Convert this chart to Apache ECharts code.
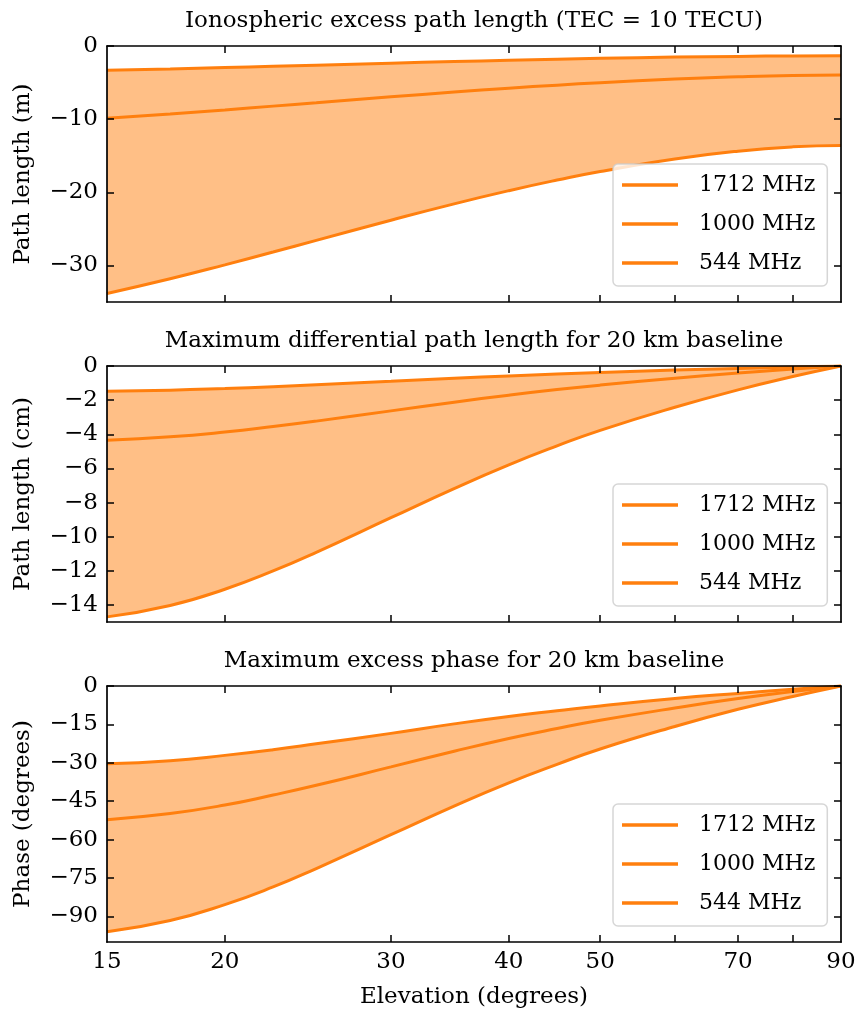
<!DOCTYPE html>
<html>
<head>
<meta charset="utf-8">
<script src="https://cdn.jsdelivr.net/npm/echarts@6/dist/echarts.min.js"></script>
<style>html,body{margin:0;padding:0;background:#fff;}#c{width:861px;height:1017px;}</style>
</head>
<body>
<div id="c"></div>
<script>
// ---- data ----
const elevation = [15, 17.5, 20, 22.5, 25, 30, 35, 40, 45, 50, 60, 70, 80, 90];
const seriesNames = ['1712 MHz', '1000 MHz', '544 MHz'];

// Panel 1: ionospheric excess path length (m)
const path_m_1712 = [-3.33, -3.14, -2.95, -2.78, -2.62, -2.35, -2.13, -1.95, -1.81, -1.69, -1.52, -1.42, -1.36, -1.34];
const path_m_1000 = [-9.87, -9.29, -8.74, -8.22, -7.76, -6.95, -6.30, -5.77, -5.35, -5.01, -4.51, -4.20, -4.02, -3.97];
const path_m_544  = [-33.83, -31.82, -29.92, -28.17, -26.57, -23.82, -21.58, -19.78, -18.33, -17.15, -15.45, -14.38, -13.79, -13.60];

// Panel 2: maximum differential path length (cm)
const diff_cm_1712 = [-1.48, -1.42, -1.32, -1.21, -1.10, -0.90, -0.72, -0.58, -0.47, -0.38, -0.24, -0.14, -0.065, 0];
const diff_cm_1000 = [-4.35, -4.15, -3.87, -3.55, -3.23, -2.63, -2.12, -1.71, -1.38, -1.12, -0.72, -0.41, -0.18, 0];
const diff_cm_544  = [-14.70, -14.03, -13.08, -12.01, -10.92, -8.89, -7.18, -5.79, -4.68, -3.77, -2.42, -1.40, -0.62, 0];

// Panel 3: maximum excess phase (degrees)
const phase_1712 = [-30.4, -29.2, -27.1, -24.9, -22.6, -18.5, -14.8, -11.9, -9.7, -7.8, -4.9, -2.9, -1.3, 0];
const phase_1000 = [-52.2, -49.8, -46.5, -42.6, -38.8, -31.6, -25.5, -20.5, -16.6, -13.4, -8.6, -4.9, -2.2, 0];
const phase_544  = [-96.0, -91.6, -85.4, -78.5, -71.3, -58.1, -46.9, -37.8, -30.6, -24.6, -15.8, -9.1, -4.1, 0];

// ticks
const xTickValues = [20, 30, 40, 50, 60, 70, 80];
const xLabelValues = [15, 20, 30, 40, 50, 70, 90];
const yTicks1 = [0, -10, -20, -30];
const yTicks2 = [0, -2, -4, -6, -8, -10, -12, -14];
const yTicks3 = [0, -15, -30, -45, -60, -75, -90];

const titles = [
  'Ionospheric excess path length (TEC = 10 TECU)',
  'Maximum differential path length for 20 km baseline',
  'Maximum excess phase for 20 km baseline'
];
const yNames = ['Path length (m)', 'Path length (cm)', 'Phase (degrees)'];
const yMins = [-35, -15, -100];
const yTicks = [yTicks1, yTicks2, yTicks3];
const panelData = [
  [path_m_1712, path_m_1000, path_m_544],
  [diff_cm_1712, diff_cm_1000, diff_cm_544],
  [phase_1712, phase_1000, phase_544]
];

// ---- layout / style ----
const FONT = 'DejaVu Serif';
const FS = 23;
const LFS = 22;
const ORANGE = '#ff7f0e';
const FILL = '#ffbf86';
const gridLeft = 107, gridW = 734, gridH = 256;
const gridTops = [46, 366, 686];
const lx = v => Math.log10(v);
const fmtY = v => (v < 0 ? '\u2212' + Math.abs(v) : String(v));

const grids = [], xAxes = [], yAxes = [], series = [], titleArr = [], legends = [];

for (let i = 0; i < 3; i++) {
  grids.push({left: gridLeft, top: gridTops[i], width: gridW, height: gridH, outerBoundsMode: 'none', containLabel: false});
  titleArr.push({
    text: titles[i], left: gridLeft + gridW / 2, textAlign: 'center', top: gridTops[i] - 36, padding: 0,
    textStyle: {fontFamily: FONT, fontSize: FS, fontWeight: 'normal', color: '#000'}
  });
  const axLine = {show: true, onZero: false, lineStyle: {color: '#000', width: 1.7}};
  const tick = {show: true, inside: true, length: 7, lineStyle: {color: '#000', width: 1.5}};
  xAxes.push({
    type: 'value', gridIndex: i, position: 'bottom', min: lx(15), max: lx(90), z: 10,
    axisLine: axLine,
    axisTick: Object.assign({}, tick, {customValues: xTickValues.map(lx)}),
    axisLabel: {show: i === 2, customValues: xLabelValues.map(lx), margin: 9,
      formatter: v => String(Math.round(Math.pow(10, v))),
      fontFamily: FONT, fontSize: FS, color: '#000'},
    splitLine: {show: false},
    name: i === 2 ? 'Elevation (degrees)' : '', nameLocation: 'middle', nameGap: 44,
    nameTextStyle: {fontFamily: FONT, fontSize: FS, color: '#000'}
  });
  xAxes.push({
    type: 'value', gridIndex: i, position: 'top', min: lx(15), max: lx(90), z: 10,
    axisLine: axLine,
    axisTick: Object.assign({}, tick, {customValues: xTickValues.map(lx)}),
    axisLabel: {show: false}, splitLine: {show: false}
  });
  yAxes.push({
    type: 'value', gridIndex: i, position: 'left', min: yMins[i], max: 0, z: 10,
    axisLine: axLine,
    axisTick: Object.assign({}, tick, {customValues: yTicks[i]}),
    axisLabel: {customValues: yTicks[i], formatter: fmtY, margin: 9,
      fontFamily: FONT, fontSize: FS, color: '#000'},
    splitLine: {show: false},
    name: yNames[i], nameLocation: 'middle', nameGap: 72,
    nameTextStyle: {fontFamily: FONT, fontSize: FS, color: '#000'}
  });
  yAxes.push({
    type: 'value', gridIndex: i, position: 'right', min: yMins[i], max: 0, z: 10,
    axisLine: axLine,
    axisTick: Object.assign({}, tick, {customValues: yTicks[i]}),
    axisLabel: {show: false}, splitLine: {show: false}
  });

  const d = panelData[i];
  const pts = arr => elevation.map((e, k) => [lx(e), arr[k]]);
  const xi = i * 2, yi = i * 2;
  // band: fill from lower curve up to 0, then white from upper curve up to 0
  series.push({
    name: 'band' + i, type: 'line', xAxisIndex: xi, yAxisIndex: yi,
    data: pts(d[2]), smooth: true, symbol: 'none', silent: true,
    lineStyle: {opacity: 0}, areaStyle: {color: FILL, opacity: 1, origin: 'end'}, z: 1
  });
  series.push({
    name: 'mask' + i, type: 'line', xAxisIndex: xi, yAxisIndex: yi,
    data: pts(d[0]), smooth: true, symbol: 'none', silent: true,
    lineStyle: {opacity: 0}, areaStyle: {color: '#ffffff', opacity: 1, origin: 'end'}, z: 1.5
  });
  for (let s = 0; s < 3; s++) {
    series.push({
      name: seriesNames[s], type: 'line', xAxisIndex: xi, yAxisIndex: yi,
      data: pts(d[s]), smooth: true, symbol: 'none',
      lineStyle: {color: ORANGE, width: 3}, itemStyle: {color: ORANGE}, z: 3
    });
  }
  legends.push({
    data: seriesNames, orient: 'vertical', left: 613, top: gridTops[i] + 118,
    padding: [10, 12, 12, 9], icon: 'rect', itemWidth: 56, itemHeight: 3.5, itemGap: 17,
    backgroundColor: 'rgba(255,255,255,0.8)', borderColor: 'rgba(204,204,204,0.8)',
    borderWidth: 1.5, borderRadius: 5, selectedMode: false,
    itemStyle: {color: ORANGE, borderWidth: 0},
    textStyle: {fontFamily: FONT, fontSize: LFS, color: '#000', lineHeight: 22, padding: [0, 0, 0, 16]}
  });
}

const chart = echarts.init(document.getElementById('c'), null, {renderer: 'canvas'});
chart.setOption({
  animation: false,
  backgroundColor: '#fff',
  title: titleArr,
  grid: grids,
  xAxis: xAxes,
  yAxis: yAxes,
  legend: legends,
  series: series
});
</script>
</body>
</html>
